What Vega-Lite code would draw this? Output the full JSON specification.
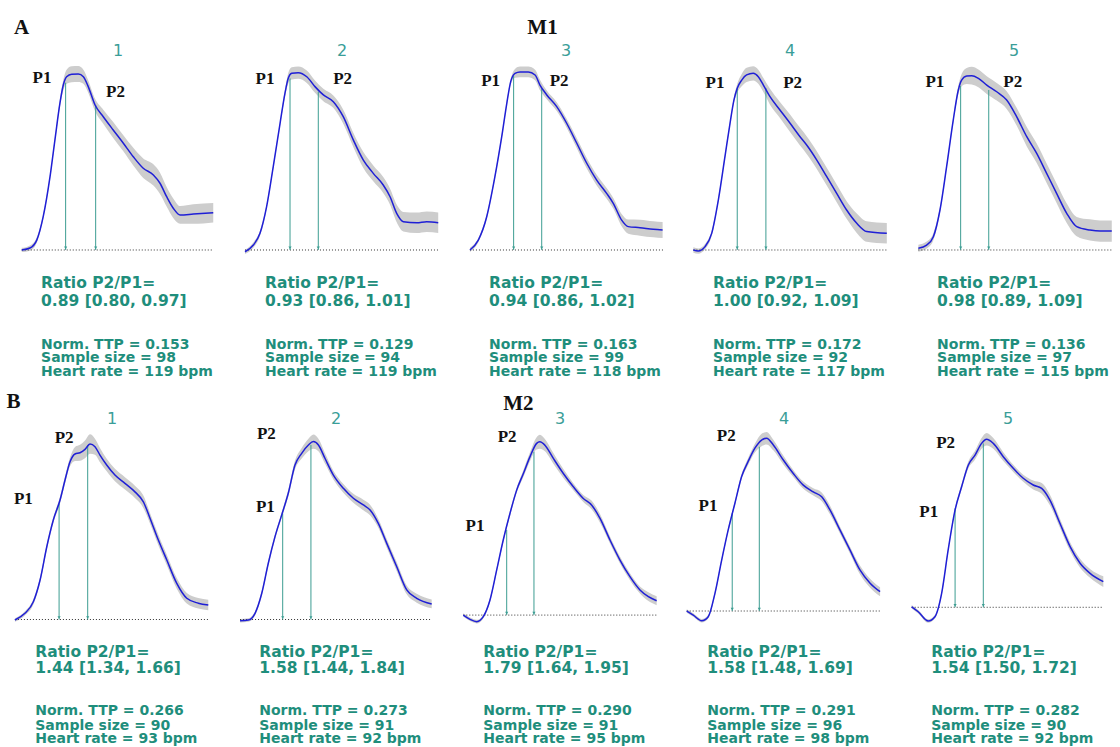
{
"$schema": "https://vega.github.io/schema/vega-lite/v6.json",
"padding": 0,
"background": "white",
"config": {"view": {"stroke": null}},
"datasets": {
"all": [
{"kind":"c","g":"A","p":1,"t":0.009,"y":0.000,"lo":-0.012,"hi":0.012},
{"kind":"c","g":"A","p":1,"t":0.051,"y":0.011,"lo":-0.004,"hi":0.026},
{"kind":"c","g":"A","p":1,"t":0.086,"y":0.056,"lo":0.041,"hi":0.071},
{"kind":"c","g":"A","p":1,"t":0.119,"y":0.188,"lo":0.176,"hi":0.200},
{"kind":"c","g":"A","p":1,"t":0.154,"y":0.414,"lo":0.402,"hi":0.426},
{"kind":"c","g":"A","p":1,"t":0.179,"y":0.621,"lo":0.609,"hi":0.633},
{"kind":"c","g":"A","p":1,"t":0.205,"y":0.831,"lo":0.811,"hi":0.851},
{"kind":"c","g":"A","p":1,"t":0.222,"y":0.932,"lo":0.902,"hi":0.962},
{"kind":"c","g":"A","p":1,"t":0.239,"y":0.979,"lo":0.939,"hi":1.019},
{"kind":"c","g":"A","p":1,"t":0.265,"y":0.993,"lo":0.948,"hi":1.038},
{"kind":"c","g":"A","p":1,"t":0.299,"y":0.994,"lo":0.949,"hi":1.039},
{"kind":"c","g":"A","p":1,"t":0.325,"y":0.979,"lo":0.939,"hi":1.019},
{"kind":"c","g":"A","p":1,"t":0.350,"y":0.923,"lo":0.888,"hi":0.958},
{"kind":"c","g":"A","p":1,"t":0.385,"y":0.819,"lo":0.784,"hi":0.854},
{"kind":"c","g":"A","p":1,"t":0.427,"y":0.753,"lo":0.713,"hi":0.793},
{"kind":"c","g":"A","p":1,"t":0.478,"y":0.678,"lo":0.633,"hi":0.723},
{"kind":"c","g":"A","p":1,"t":0.530,"y":0.603,"lo":0.558,"hi":0.648},
{"kind":"c","g":"A","p":1,"t":0.581,"y":0.527,"lo":0.477,"hi":0.577},
{"kind":"c","g":"A","p":1,"t":0.632,"y":0.462,"lo":0.407,"hi":0.517},
{"kind":"c","g":"A","p":1,"t":0.684,"y":0.424,"lo":0.364,"hi":0.484},
{"kind":"c","g":"A","p":1,"t":0.718,"y":0.377,"lo":0.317,"hi":0.437},
{"kind":"c","g":"A","p":1,"t":0.752,"y":0.301,"lo":0.246,"hi":0.356},
{"kind":"c","g":"A","p":1,"t":0.786,"y":0.236,"lo":0.181,"hi":0.291},
{"kind":"c","g":"A","p":1,"t":0.821,"y":0.198,"lo":0.148,"hi":0.248},
{"kind":"c","g":"A","p":1,"t":0.889,"y":0.203,"lo":0.148,"hi":0.258},
{"kind":"c","g":"A","p":1,"t":0.991,"y":0.211,"lo":0.156,"hi":0.266},

{"kind":"c","g":"A","p":2,"t":0.005,"y":-0.010,"lo":-0.022,"hi":0.002},
{"kind":"c","g":"A","p":2,"t":0.048,"y":0.028,"lo":0.013,"hi":0.043},
{"kind":"c","g":"A","p":2,"t":0.082,"y":0.094,"lo":0.079,"hi":0.109},
{"kind":"c","g":"A","p":2,"t":0.116,"y":0.245,"lo":0.233,"hi":0.257},
{"kind":"c","g":"A","p":2,"t":0.150,"y":0.471,"lo":0.459,"hi":0.483},
{"kind":"c","g":"A","p":2,"t":0.185,"y":0.716,"lo":0.704,"hi":0.728},
{"kind":"c","g":"A","p":2,"t":0.210,"y":0.885,"lo":0.865,"hi":0.905},
{"kind":"c","g":"A","p":2,"t":0.227,"y":0.970,"lo":0.940,"hi":1.000},
{"kind":"c","g":"A","p":2,"t":0.245,"y":0.998,"lo":0.963,"hi":1.033},
{"kind":"c","g":"A","p":2,"t":0.278,"y":1.002,"lo":0.967,"hi":1.037},
{"kind":"c","g":"A","p":2,"t":0.322,"y":0.979,"lo":0.944,"hi":1.014},
{"kind":"c","g":"A","p":2,"t":0.364,"y":0.923,"lo":0.888,"hi":0.958},
{"kind":"c","g":"A","p":2,"t":0.407,"y":0.876,"lo":0.841,"hi":0.911},
{"kind":"c","g":"A","p":2,"t":0.458,"y":0.838,"lo":0.803,"hi":0.873},
{"kind":"c","g":"A","p":2,"t":0.509,"y":0.753,"lo":0.713,"hi":0.793},
{"kind":"c","g":"A","p":2,"t":0.561,"y":0.621,"lo":0.581,"hi":0.661},
{"kind":"c","g":"A","p":2,"t":0.612,"y":0.508,"lo":0.463,"hi":0.553},
{"kind":"c","g":"A","p":2,"t":0.663,"y":0.433,"lo":0.388,"hi":0.478},
{"kind":"c","g":"A","p":2,"t":0.714,"y":0.367,"lo":0.322,"hi":0.412},
{"kind":"c","g":"A","p":2,"t":0.749,"y":0.301,"lo":0.256,"hi":0.346},
{"kind":"c","g":"A","p":2,"t":0.783,"y":0.207,"lo":0.157,"hi":0.257},
{"kind":"c","g":"A","p":2,"t":0.817,"y":0.160,"lo":0.105,"hi":0.215},
{"kind":"c","g":"A","p":2,"t":0.886,"y":0.154,"lo":0.096,"hi":0.212},
{"kind":"c","g":"A","p":2,"t":0.937,"y":0.160,"lo":0.102,"hi":0.218},
{"kind":"c","g":"A","p":2,"t":0.996,"y":0.154,"lo":0.096,"hi":0.212},

{"kind":"c","g":"A","p":3,"t":0.010,"y":0.000,"lo":-0.012,"hi":0.012},
{"kind":"c","g":"A","p":3,"t":0.053,"y":0.056,"lo":0.044,"hi":0.068},
{"kind":"c","g":"A","p":3,"t":0.096,"y":0.188,"lo":0.176,"hi":0.200},
{"kind":"c","g":"A","p":3,"t":0.138,"y":0.414,"lo":0.402,"hi":0.426},
{"kind":"c","g":"A","p":3,"t":0.173,"y":0.640,"lo":0.628,"hi":0.652},
{"kind":"c","g":"A","p":3,"t":0.199,"y":0.829,"lo":0.817,"hi":0.841},
{"kind":"c","g":"A","p":3,"t":0.219,"y":0.951,"lo":0.936,"hi":0.966},
{"kind":"c","g":"A","p":3,"t":0.241,"y":0.998,"lo":0.973,"hi":1.023},
{"kind":"c","g":"A","p":3,"t":0.267,"y":1.006,"lo":0.976,"hi":1.036},
{"kind":"c","g":"A","p":3,"t":0.309,"y":1.006,"lo":0.976,"hi":1.036},
{"kind":"c","g":"A","p":3,"t":0.344,"y":0.989,"lo":0.959,"hi":1.019},
{"kind":"c","g":"A","p":3,"t":0.369,"y":0.932,"lo":0.902,"hi":0.962},
{"kind":"c","g":"A","p":3,"t":0.404,"y":0.876,"lo":0.851,"hi":0.901},
{"kind":"c","g":"A","p":3,"t":0.455,"y":0.810,"lo":0.785,"hi":0.835},
{"kind":"c","g":"A","p":3,"t":0.506,"y":0.716,"lo":0.691,"hi":0.741},
{"kind":"c","g":"A","p":3,"t":0.558,"y":0.603,"lo":0.575,"hi":0.631},
{"kind":"c","g":"A","p":3,"t":0.609,"y":0.490,"lo":0.460,"hi":0.520},
{"kind":"c","g":"A","p":3,"t":0.660,"y":0.395,"lo":0.365,"hi":0.425},
{"kind":"c","g":"A","p":3,"t":0.711,"y":0.320,"lo":0.290,"hi":0.350},
{"kind":"c","g":"A","p":3,"t":0.745,"y":0.264,"lo":0.234,"hi":0.294},
{"kind":"c","g":"A","p":3,"t":0.788,"y":0.169,"lo":0.134,"hi":0.204},
{"kind":"c","g":"A","p":3,"t":0.822,"y":0.132,"lo":0.092,"hi":0.172},
{"kind":"c","g":"A","p":3,"t":0.882,"y":0.126,"lo":0.081,"hi":0.171},
{"kind":"c","g":"A","p":3,"t":0.950,"y":0.117,"lo":0.072,"hi":0.162},
{"kind":"c","g":"A","p":3,"t":0.998,"y":0.113,"lo":0.068,"hi":0.158},

{"kind":"c","g":"A","p":4,"t":0.007,"y":0.000,"lo":-0.015,"hi":0.015},
{"kind":"c","g":"A","p":4,"t":0.032,"y":-0.006,"lo":-0.021,"hi":0.009},
{"kind":"c","g":"A","p":4,"t":0.067,"y":0.019,"lo":0.004,"hi":0.034},
{"kind":"c","g":"A","p":4,"t":0.101,"y":0.094,"lo":0.079,"hi":0.109},
{"kind":"c","g":"A","p":4,"t":0.135,"y":0.282,"lo":0.270,"hi":0.294},
{"kind":"c","g":"A","p":4,"t":0.169,"y":0.527,"lo":0.515,"hi":0.539},
{"kind":"c","g":"A","p":4,"t":0.195,"y":0.716,"lo":0.704,"hi":0.728},
{"kind":"c","g":"A","p":4,"t":0.215,"y":0.847,"lo":0.832,"hi":0.862},
{"kind":"c","g":"A","p":4,"t":0.232,"y":0.914,"lo":0.889,"hi":0.939},
{"kind":"c","g":"A","p":4,"t":0.255,"y":0.960,"lo":0.925,"hi":0.995},
{"kind":"c","g":"A","p":4,"t":0.280,"y":0.989,"lo":0.949,"hi":1.029},
{"kind":"c","g":"A","p":4,"t":0.314,"y":0.998,"lo":0.958,"hi":1.038},
{"kind":"c","g":"A","p":4,"t":0.340,"y":0.979,"lo":0.939,"hi":1.019},
{"kind":"c","g":"A","p":4,"t":0.366,"y":0.932,"lo":0.892,"hi":0.972},
{"kind":"c","g":"A","p":4,"t":0.400,"y":0.866,"lo":0.821,"hi":0.911},
{"kind":"c","g":"A","p":4,"t":0.451,"y":0.791,"lo":0.746,"hi":0.836},
{"kind":"c","g":"A","p":4,"t":0.503,"y":0.716,"lo":0.666,"hi":0.766},
{"kind":"c","g":"A","p":4,"t":0.554,"y":0.640,"lo":0.590,"hi":0.690},
{"kind":"c","g":"A","p":4,"t":0.588,"y":0.593,"lo":0.543,"hi":0.643},
{"kind":"c","g":"A","p":4,"t":0.640,"y":0.508,"lo":0.458,"hi":0.558},
{"kind":"c","g":"A","p":4,"t":0.691,"y":0.414,"lo":0.364,"hi":0.464},
{"kind":"c","g":"A","p":4,"t":0.742,"y":0.320,"lo":0.270,"hi":0.370},
{"kind":"c","g":"A","p":4,"t":0.793,"y":0.226,"lo":0.176,"hi":0.276},
{"kind":"c","g":"A","p":4,"t":0.845,"y":0.151,"lo":0.096,"hi":0.206},
{"kind":"c","g":"A","p":4,"t":0.896,"y":0.104,"lo":0.046,"hi":0.162},
{"kind":"c","g":"A","p":4,"t":0.999,"y":0.094,"lo":0.036,"hi":0.152},

{"kind":"c","g":"A","p":5,"t":0.012,"y":0.010,"lo":-0.010,"hi":0.030},
{"kind":"c","g":"A","p":5,"t":0.055,"y":0.028,"lo":0.008,"hi":0.048},
{"kind":"c","g":"A","p":5,"t":0.089,"y":0.075,"lo":0.055,"hi":0.095},
{"kind":"c","g":"A","p":5,"t":0.123,"y":0.226,"lo":0.211,"hi":0.241},
{"kind":"c","g":"A","p":5,"t":0.157,"y":0.471,"lo":0.459,"hi":0.483},
{"kind":"c","g":"A","p":5,"t":0.191,"y":0.734,"lo":0.719,"hi":0.749},
{"kind":"c","g":"A","p":5,"t":0.217,"y":0.904,"lo":0.879,"hi":0.929},
{"kind":"c","g":"A","p":5,"t":0.234,"y":0.960,"lo":0.925,"hi":0.995},
{"kind":"c","g":"A","p":5,"t":0.260,"y":0.983,"lo":0.938,"hi":1.028},
{"kind":"c","g":"A","p":5,"t":0.286,"y":0.985,"lo":0.935,"hi":1.035},
{"kind":"c","g":"A","p":5,"t":0.320,"y":0.970,"lo":0.920,"hi":1.020},
{"kind":"c","g":"A","p":5,"t":0.363,"y":0.932,"lo":0.882,"hi":0.982},
{"kind":"c","g":"A","p":5,"t":0.414,"y":0.894,"lo":0.844,"hi":0.944},
{"kind":"c","g":"A","p":5,"t":0.465,"y":0.847,"lo":0.797,"hi":0.897},
{"kind":"c","g":"A","p":5,"t":0.516,"y":0.753,"lo":0.703,"hi":0.803},
{"kind":"c","g":"A","p":5,"t":0.568,"y":0.640,"lo":0.585,"hi":0.695},
{"kind":"c","g":"A","p":5,"t":0.619,"y":0.546,"lo":0.491,"hi":0.601},
{"kind":"c","g":"A","p":5,"t":0.670,"y":0.433,"lo":0.378,"hi":0.488},
{"kind":"c","g":"A","p":5,"t":0.721,"y":0.320,"lo":0.265,"hi":0.375},
{"kind":"c","g":"A","p":5,"t":0.773,"y":0.207,"lo":0.152,"hi":0.262},
{"kind":"c","g":"A","p":5,"t":0.824,"y":0.132,"lo":0.077,"hi":0.187},
{"kind":"c","g":"A","p":5,"t":0.892,"y":0.113,"lo":0.053,"hi":0.173},
{"kind":"c","g":"A","p":5,"t":0.944,"y":0.107,"lo":0.047,"hi":0.167},
{"kind":"c","g":"A","p":5,"t":1.004,"y":0.107,"lo":0.047,"hi":0.167},

{"kind":"c","g":"B","p":1,"t":-0.003,"y":-0.003,"lo":-0.013,"hi":0.007},
{"kind":"c","g":"B","p":1,"t":0.049,"y":0.035,"lo":0.023,"hi":0.047},
{"kind":"c","g":"B","p":1,"t":0.093,"y":0.100,"lo":0.085,"hi":0.115},
{"kind":"c","g":"B","p":1,"t":0.128,"y":0.223,"lo":0.208,"hi":0.238},
{"kind":"c","g":"B","p":1,"t":0.163,"y":0.411,"lo":0.396,"hi":0.426},
{"kind":"c","g":"B","p":1,"t":0.197,"y":0.562,"lo":0.547,"hi":0.577},
{"kind":"c","g":"B","p":1,"t":0.232,"y":0.675,"lo":0.655,"hi":0.695},
{"kind":"c","g":"B","p":1,"t":0.258,"y":0.788,"lo":0.768,"hi":0.808},
{"kind":"c","g":"B","p":1,"t":0.284,"y":0.891,"lo":0.866,"hi":0.916},
{"kind":"c","g":"B","p":1,"t":0.310,"y":0.935,"lo":0.895,"hi":0.975},
{"kind":"c","g":"B","p":1,"t":0.336,"y":0.942,"lo":0.897,"hi":0.987},
{"kind":"c","g":"B","p":1,"t":0.362,"y":0.961,"lo":0.911,"hi":1.011},
{"kind":"c","g":"B","p":1,"t":0.388,"y":0.991,"lo":0.936,"hi":1.046},
{"kind":"c","g":"B","p":1,"t":0.414,"y":0.976,"lo":0.931,"hi":1.021},
{"kind":"c","g":"B","p":1,"t":0.440,"y":0.929,"lo":0.889,"hi":0.969},
{"kind":"c","g":"B","p":1,"t":0.475,"y":0.873,"lo":0.838,"hi":0.908},
{"kind":"c","g":"B","p":1,"t":0.518,"y":0.816,"lo":0.781,"hi":0.851},
{"kind":"c","g":"B","p":1,"t":0.570,"y":0.769,"lo":0.734,"hi":0.804},
{"kind":"c","g":"B","p":1,"t":0.622,"y":0.721,"lo":0.686,"hi":0.756},
{"kind":"c","g":"B","p":1,"t":0.666,"y":0.665,"lo":0.630,"hi":0.700},
{"kind":"c","g":"B","p":1,"t":0.701,"y":0.571,"lo":0.541,"hi":0.601},
{"kind":"c","g":"B","p":1,"t":0.744,"y":0.449,"lo":0.419,"hi":0.479},
{"kind":"c","g":"B","p":1,"t":0.788,"y":0.336,"lo":0.306,"hi":0.366},
{"kind":"c","g":"B","p":1,"t":0.840,"y":0.204,"lo":0.174,"hi":0.234},
{"kind":"c","g":"B","p":1,"t":0.892,"y":0.120,"lo":0.090,"hi":0.150},
{"kind":"c","g":"B","p":1,"t":0.952,"y":0.092,"lo":0.062,"hi":0.122},
{"kind":"c","g":"B","p":1,"t":1.004,"y":0.082,"lo":0.052,"hi":0.112},

{"kind":"c","g":"B","p":2,"t":0.003,"y":-0.007,"lo":-0.017,"hi":0.003},
{"kind":"c","g":"B","p":2,"t":0.046,"y":-0.003,"lo":-0.013,"hi":0.007},
{"kind":"c","g":"B","p":2,"t":0.081,"y":0.035,"lo":0.023,"hi":0.047},
{"kind":"c","g":"B","p":2,"t":0.116,"y":0.148,"lo":0.133,"hi":0.163},
{"kind":"c","g":"B","p":2,"t":0.150,"y":0.318,"lo":0.303,"hi":0.333},
{"kind":"c","g":"B","p":2,"t":0.185,"y":0.468,"lo":0.453,"hi":0.483},
{"kind":"c","g":"B","p":2,"t":0.220,"y":0.591,"lo":0.576,"hi":0.606},
{"kind":"c","g":"B","p":2,"t":0.254,"y":0.713,"lo":0.693,"hi":0.733},
{"kind":"c","g":"B","p":2,"t":0.289,"y":0.873,"lo":0.848,"hi":0.898},
{"kind":"c","g":"B","p":2,"t":0.324,"y":0.939,"lo":0.909,"hi":0.969},
{"kind":"c","g":"B","p":2,"t":0.359,"y":0.986,"lo":0.951,"hi":1.021},
{"kind":"c","g":"B","p":2,"t":0.385,"y":1.005,"lo":0.965,"hi":1.045},
{"kind":"c","g":"B","p":2,"t":0.411,"y":0.986,"lo":0.951,"hi":1.021},
{"kind":"c","g":"B","p":2,"t":0.445,"y":0.911,"lo":0.881,"hi":0.941},
{"kind":"c","g":"B","p":2,"t":0.489,"y":0.816,"lo":0.791,"hi":0.841},
{"kind":"c","g":"B","p":2,"t":0.541,"y":0.741,"lo":0.716,"hi":0.766},
{"kind":"c","g":"B","p":2,"t":0.593,"y":0.685,"lo":0.660,"hi":0.710},
{"kind":"c","g":"B","p":2,"t":0.645,"y":0.647,"lo":0.617,"hi":0.677},
{"kind":"c","g":"B","p":2,"t":0.680,"y":0.619,"lo":0.589,"hi":0.649},
{"kind":"c","g":"B","p":2,"t":0.723,"y":0.543,"lo":0.518,"hi":0.568},
{"kind":"c","g":"B","p":2,"t":0.767,"y":0.430,"lo":0.405,"hi":0.455},
{"kind":"c","g":"B","p":2,"t":0.819,"y":0.298,"lo":0.273,"hi":0.323},
{"kind":"c","g":"B","p":2,"t":0.871,"y":0.167,"lo":0.142,"hi":0.192},
{"kind":"c","g":"B","p":2,"t":0.923,"y":0.120,"lo":0.095,"hi":0.145},
{"kind":"c","g":"B","p":2,"t":1.001,"y":0.088,"lo":0.063,"hi":0.113},

{"kind":"c","g":"B","p":3,"t":-0.001,"y":0.025,"lo":0.015,"hi":0.035},
{"kind":"c","g":"B","p":3,"t":0.034,"y":0.001,"lo":-0.009,"hi":0.011},
{"kind":"c","g":"B","p":3,"t":0.069,"y":-0.012,"lo":-0.022,"hi":-0.002},
{"kind":"c","g":"B","p":3,"t":0.103,"y":0.016,"lo":0.006,"hi":0.026},
{"kind":"c","g":"B","p":3,"t":0.138,"y":0.110,"lo":0.098,"hi":0.122},
{"kind":"c","g":"B","p":3,"t":0.173,"y":0.280,"lo":0.268,"hi":0.292},
{"kind":"c","g":"B","p":3,"t":0.207,"y":0.449,"lo":0.437,"hi":0.461},
{"kind":"c","g":"B","p":3,"t":0.242,"y":0.599,"lo":0.584,"hi":0.614},
{"kind":"c","g":"B","p":3,"t":0.277,"y":0.731,"lo":0.716,"hi":0.746},
{"kind":"c","g":"B","p":3,"t":0.312,"y":0.825,"lo":0.805,"hi":0.845},
{"kind":"c","g":"B","p":3,"t":0.346,"y":0.919,"lo":0.894,"hi":0.944},
{"kind":"c","g":"B","p":3,"t":0.381,"y":0.995,"lo":0.960,"hi":1.030},
{"kind":"c","g":"B","p":3,"t":0.398,"y":1.004,"lo":0.964,"hi":1.044},
{"kind":"c","g":"B","p":3,"t":0.424,"y":0.985,"lo":0.950,"hi":1.020},
{"kind":"c","g":"B","p":3,"t":0.468,"y":0.910,"lo":0.880,"hi":0.940},
{"kind":"c","g":"B","p":3,"t":0.520,"y":0.825,"lo":0.800,"hi":0.850},
{"kind":"c","g":"B","p":3,"t":0.572,"y":0.750,"lo":0.730,"hi":0.770},
{"kind":"c","g":"B","p":3,"t":0.624,"y":0.684,"lo":0.664,"hi":0.704},
{"kind":"c","g":"B","p":3,"t":0.668,"y":0.646,"lo":0.621,"hi":0.671},
{"kind":"c","g":"B","p":3,"t":0.711,"y":0.571,"lo":0.546,"hi":0.596},
{"kind":"c","g":"B","p":3,"t":0.763,"y":0.449,"lo":0.429,"hi":0.469},
{"kind":"c","g":"B","p":3,"t":0.815,"y":0.336,"lo":0.316,"hi":0.356},
{"kind":"c","g":"B","p":3,"t":0.867,"y":0.242,"lo":0.222,"hi":0.262},
{"kind":"c","g":"B","p":3,"t":0.919,"y":0.167,"lo":0.147,"hi":0.187},
{"kind":"c","g":"B","p":3,"t":0.963,"y":0.129,"lo":0.104,"hi":0.154},
{"kind":"c","g":"B","p":3,"t":1.006,"y":0.106,"lo":0.081,"hi":0.131},

{"kind":"c","g":"B","p":4,"t":-0.004,"y":0.048,"lo":0.038,"hi":0.058},
{"kind":"c","g":"B","p":4,"t":0.030,"y":0.025,"lo":0.015,"hi":0.035},
{"kind":"c","g":"B","p":4,"t":0.074,"y":-0.007,"lo":-0.017,"hi":0.003},
{"kind":"c","g":"B","p":4,"t":0.108,"y":0.016,"lo":0.006,"hi":0.026},
{"kind":"c","g":"B","p":4,"t":0.143,"y":0.148,"lo":0.136,"hi":0.160},
{"kind":"c","g":"B","p":4,"t":0.178,"y":0.336,"lo":0.324,"hi":0.348},
{"kind":"c","g":"B","p":4,"t":0.212,"y":0.506,"lo":0.494,"hi":0.518},
{"kind":"c","g":"B","p":4,"t":0.247,"y":0.657,"lo":0.645,"hi":0.669},
{"kind":"c","g":"B","p":4,"t":0.282,"y":0.808,"lo":0.793,"hi":0.823},
{"kind":"c","g":"B","p":4,"t":0.316,"y":0.893,"lo":0.873,"hi":0.913},
{"kind":"c","g":"B","p":4,"t":0.351,"y":0.968,"lo":0.943,"hi":0.993},
{"kind":"c","g":"B","p":4,"t":0.386,"y":1.014,"lo":0.979,"hi":1.049},
{"kind":"c","g":"B","p":4,"t":0.412,"y":1.024,"lo":0.989,"hi":1.059},
{"kind":"c","g":"B","p":4,"t":0.447,"y":0.986,"lo":0.956,"hi":1.016},
{"kind":"c","g":"B","p":4,"t":0.499,"y":0.901,"lo":0.876,"hi":0.926},
{"kind":"c","g":"B","p":4,"t":0.551,"y":0.825,"lo":0.805,"hi":0.845},
{"kind":"c","g":"B","p":4,"t":0.603,"y":0.759,"lo":0.739,"hi":0.779},
{"kind":"c","g":"B","p":4,"t":0.655,"y":0.721,"lo":0.701,"hi":0.741},
{"kind":"c","g":"B","p":4,"t":0.699,"y":0.693,"lo":0.668,"hi":0.718},
{"kind":"c","g":"B","p":4,"t":0.742,"y":0.619,"lo":0.594,"hi":0.644},
{"kind":"c","g":"B","p":4,"t":0.794,"y":0.506,"lo":0.486,"hi":0.526},
{"kind":"c","g":"B","p":4,"t":0.846,"y":0.393,"lo":0.373,"hi":0.413},
{"kind":"c","g":"B","p":4,"t":0.898,"y":0.280,"lo":0.255,"hi":0.305},
{"kind":"c","g":"B","p":4,"t":0.951,"y":0.205,"lo":0.180,"hi":0.230},
{"kind":"c","g":"B","p":4,"t":1.003,"y":0.157,"lo":0.132,"hi":0.182},

{"kind":"c","g":"B","p":5,"t":0.001,"y":0.072,"lo":0.062,"hi":0.082},
{"kind":"c","g":"B","p":5,"t":0.035,"y":0.044,"lo":0.034,"hi":0.054},
{"kind":"c","g":"B","p":5,"t":0.087,"y":-0.008,"lo":-0.018,"hi":0.002},
{"kind":"c","g":"B","p":5,"t":0.122,"y":0.016,"lo":0.006,"hi":0.026},
{"kind":"c","g":"B","p":5,"t":0.157,"y":0.148,"lo":0.136,"hi":0.160},
{"kind":"c","g":"B","p":5,"t":0.191,"y":0.393,"lo":0.381,"hi":0.405},
{"kind":"c","g":"B","p":5,"t":0.227,"y":0.619,"lo":0.607,"hi":0.631},
{"kind":"c","g":"B","p":5,"t":0.261,"y":0.750,"lo":0.735,"hi":0.765},
{"kind":"c","g":"B","p":5,"t":0.296,"y":0.873,"lo":0.853,"hi":0.893},
{"kind":"c","g":"B","p":5,"t":0.331,"y":0.929,"lo":0.904,"hi":0.954},
{"kind":"c","g":"B","p":5,"t":0.365,"y":0.995,"lo":0.965,"hi":1.025},
{"kind":"c","g":"B","p":5,"t":0.391,"y":1.018,"lo":0.983,"hi":1.053},
{"kind":"c","g":"B","p":5,"t":0.426,"y":0.995,"lo":0.965,"hi":1.025},
{"kind":"c","g":"B","p":5,"t":0.478,"y":0.920,"lo":0.895,"hi":0.945},
{"kind":"c","g":"B","p":5,"t":0.530,"y":0.854,"lo":0.834,"hi":0.874},
{"kind":"c","g":"B","p":5,"t":0.582,"y":0.798,"lo":0.778,"hi":0.818},
{"kind":"c","g":"B","p":5,"t":0.634,"y":0.760,"lo":0.735,"hi":0.785},
{"kind":"c","g":"B","p":5,"t":0.678,"y":0.741,"lo":0.711,"hi":0.771},
{"kind":"c","g":"B","p":5,"t":0.721,"y":0.675,"lo":0.645,"hi":0.705},
{"kind":"c","g":"B","p":5,"t":0.773,"y":0.544,"lo":0.519,"hi":0.569},
{"kind":"c","g":"B","p":5,"t":0.826,"y":0.412,"lo":0.387,"hi":0.437},
{"kind":"c","g":"B","p":5,"t":0.878,"y":0.318,"lo":0.293,"hi":0.343},
{"kind":"c","g":"B","p":5,"t":0.930,"y":0.261,"lo":0.236,"hi":0.286},
{"kind":"c","g":"B","p":5,"t":0.999,"y":0.214,"lo":0.184,"hi":0.244},

{"kind":"r","g":"A","p":1,"name":"P1","t":0.234,"y":0.945,"b":0},
{"kind":"r","g":"A","p":1,"name":"P2","t":0.388,"y":0.819,"b":0},
{"kind":"r","g":"A","p":2,"name":"P1","t":0.236,"y":0.970,"b":0},
{"kind":"r","g":"A","p":2,"name":"P2","t":0.381,"y":0.894,"b":0},
{"kind":"r","g":"A","p":3,"name":"P1","t":0.234,"y":0.985,"b":0},
{"kind":"r","g":"A","p":3,"name":"P2","t":0.378,"y":0.912,"b":0},
{"kind":"r","g":"A","p":4,"name":"P1","t":0.232,"y":0.914,"b":0},
{"kind":"r","g":"A","p":4,"name":"P2","t":0.379,"y":0.915,"b":0},
{"kind":"r","g":"A","p":5,"name":"P1","t":0.229,"y":0.927,"b":0},
{"kind":"r","g":"A","p":5,"name":"P2","t":0.373,"y":0.904,"b":0},
{"kind":"r","g":"B","p":1,"name":"P1","t":0.227,"y":0.656,"b":0},
{"kind":"r","g":"B","p":1,"name":"P2","t":0.376,"y":0.986,"b":0},
{"kind":"r","g":"B","p":2,"name":"P1","t":0.225,"y":0.600,"b":0},
{"kind":"r","g":"B","p":2,"name":"P2","t":0.372,"y":0.986,"b":0},
{"kind":"r","g":"B","p":3,"name":"P1","t":0.225,"y":0.506,"b":0.025},
{"kind":"r","g":"B","p":3,"name":"P2","t":0.367,"y":0.948,"b":0.025},
{"kind":"r","g":"B","p":4,"name":"P1","t":0.233,"y":0.600,"b":0.048},
{"kind":"r","g":"B","p":4,"name":"P2","t":0.374,"y":0.976,"b":0.048},
{"kind":"r","g":"B","p":5,"name":"P1","t":0.227,"y":0.628,"b":0.069},
{"kind":"r","g":"B","p":5,"name":"P2","t":0.374,"y":0.995,"b":0.069},

{"kind":"l","g":"A","p":1,"name":"P1","t":0.113,"y":0.972},
{"kind":"l","g":"A","p":1,"name":"P2","t":0.490,"y":0.893},
{"kind":"l","g":"A","p":2,"name":"P1","t":0.108,"y":0.964},
{"kind":"l","g":"A","p":2,"name":"P2","t":0.506,"y":0.964},
{"kind":"l","g":"A","p":3,"name":"P1","t":0.116,"y":0.955},
{"kind":"l","g":"A","p":3,"name":"P2","t":0.467,"y":0.955},
{"kind":"l","g":"A","p":4,"name":"P1","t":0.118,"y":0.945},
{"kind":"l","g":"A","p":4,"name":"P2","t":0.516,"y":0.945},
{"kind":"l","g":"A","p":5,"name":"P1","t":0.097,"y":0.951},
{"kind":"l","g":"A","p":5,"name":"P2","t":0.496,"y":0.951},
{"kind":"l","g":"B","p":1,"name":"P1","t":0.041,"y":0.679},
{"kind":"l","g":"B","p":1,"name":"P2","t":0.253,"y":1.024},
{"kind":"l","g":"B","p":2,"name":"P1","t":0.135,"y":0.637},
{"kind":"l","g":"B","p":2,"name":"P2","t":0.140,"y":1.048},
{"kind":"l","g":"B","p":3,"name":"P1","t":0.060,"y":0.528},
{"kind":"l","g":"B","p":3,"name":"P2","t":0.227,"y":1.033},
{"kind":"l","g":"B","p":4,"name":"P1","t":0.107,"y":0.641},
{"kind":"l","g":"B","p":4,"name":"P2","t":0.202,"y":1.037},
{"kind":"l","g":"B","p":5,"name":"P1","t":0.090,"y":0.609},
{"kind":"l","g":"B","p":5,"name":"P2","t":0.178,"y":0.999},

{"kind":"b","g":"A","p":1,"t0":0.009,"t1":0.991,"y":0},
{"kind":"b","g":"A","p":2,"t0":0.005,"t1":1.0,"y":0},
{"kind":"b","g":"A","p":3,"t0":0.010,"t1":1.0,"y":0},
{"kind":"b","g":"A","p":4,"t0":0.007,"t1":1.0,"y":0},
{"kind":"b","g":"A","p":5,"t0":0.012,"t1":1.004,"y":0},
{"kind":"b","g":"B","p":1,"t0":-0.003,"t1":1.004,"y":0},
{"kind":"b","g":"B","p":2,"t0":0.003,"t1":1.0,"y":0},
{"kind":"b","g":"B","p":3,"t0":-0.001,"t1":1.006,"y":0.025},
{"kind":"b","g":"B","p":4,"t0":-0.004,"t1":1.003,"y":0.048},
{"kind":"b","g":"B","p":5,"t0":0.001,"t1":1.0,"y":0.069},

{"kind":"s","g":"A","p":1,"title":"1","ratio":"0.89 [0.80, 0.97]","ttp":"Norm. TTP = 0.153","n":"Sample size = 98","hr":"Heart rate = 119 bpm"},
{"kind":"s","g":"A","p":2,"title":"2","ratio":"0.93 [0.86, 1.01]","ttp":"Norm. TTP = 0.129","n":"Sample size = 94","hr":"Heart rate = 119 bpm"},
{"kind":"s","g":"A","p":3,"title":"3","ratio":"0.94 [0.86, 1.02]","ttp":"Norm. TTP = 0.163","n":"Sample size = 99","hr":"Heart rate = 118 bpm"},
{"kind":"s","g":"A","p":4,"title":"4","ratio":"1.00 [0.92, 1.09]","ttp":"Norm. TTP = 0.172","n":"Sample size = 92","hr":"Heart rate = 117 bpm"},
{"kind":"s","g":"A","p":5,"title":"5","ratio":"0.98 [0.89, 1.09]","ttp":"Norm. TTP = 0.136","n":"Sample size = 97","hr":"Heart rate = 115 bpm"},
{"kind":"s","g":"B","p":1,"title":"1","ratio":"1.44 [1.34, 1.66]","ttp":"Norm. TTP = 0.266","n":"Sample size = 90","hr":"Heart rate = 93 bpm"},
{"kind":"s","g":"B","p":2,"title":"2","ratio":"1.58 [1.44, 1.84]","ttp":"Norm. TTP = 0.273","n":"Sample size = 91","hr":"Heart rate = 92 bpm"},
{"kind":"s","g":"B","p":3,"title":"3","ratio":"1.79 [1.64, 1.95]","ttp":"Norm. TTP = 0.290","n":"Sample size = 91","hr":"Heart rate = 95 bpm"},
{"kind":"s","g":"B","p":4,"title":"4","ratio":"1.58 [1.48, 1.69]","ttp":"Norm. TTP = 0.291","n":"Sample size = 96","hr":"Heart rate = 98 bpm"},
{"kind":"s","g":"B","p":5,"title":"5","ratio":"1.54 [1.50, 1.72]","ttp":"Norm. TTP = 0.282","n":"Sample size = 90","hr":"Heart rate = 92 bpm"},

{"kind":"tag","g":"A","p":1,"name":"A","t":0.008,"y":1.254},
{"kind":"tag","g":"A","p":3,"name":"M1","t":0.382,"y":1.254},
{"kind":"tag","g":"B","p":1,"name":"B","t":-0.010,"y":1.231},
{"kind":"tag","g":"B","p":3,"name":"M2","t":0.286,"y":1.218}
]
},
"vconcat": [
{
"data": {"name": "all"},
"transform": [{"filter": "datum.g == 'A'"}],
"facet": {"column": {"field": "p", "type": "ordinal", "header": null}},
"spacing": 0,
"spec": {
"width": 224, "height": 380,
"layer": [
{"transform": [{"filter": "datum.kind == 'c'"}],
 "mark": {"type": "area", "color": "#cdcdcd", "interpolate": "monotone", "opacity": 1},
 "encoding": {"x": {"field": "t", "type": "quantitative", "axis": null, "scale": {"domain": [-0.10256, 1.04615], "nice": false, "zero": false}},
  "y": {"field": "lo", "type": "quantitative", "axis": null, "scale": {"domain": [-0.7345, 1.4124], "nice": false, "zero": false}},
  "y2": {"field": "hi"}}},
{"transform": [{"filter": "datum.kind == 'b'"}],
 "mark": {"type": "rule", "color": "#333333", "strokeWidth": 1, "strokeDash": [1, 2]},
 "encoding": {"x": {"field": "t0", "type": "quantitative"}, "x2": {"field": "t1"}, "y": {"field": "y", "type": "quantitative"}}},
{"transform": [{"filter": "datum.kind == 'r'"}],
 "mark": {"type": "rule", "color": "#3d9d92", "strokeWidth": 1},
 "encoding": {"x": {"field": "t", "type": "quantitative"}, "y": {"field": "y", "type": "quantitative"}, "y2": {"field": "b"}}},
{"transform": [{"filter": "datum.kind == 'r'"}],
 "mark": {"type": "point", "shape": "triangle-down", "filled": true, "color": "#3d9d92", "size": 10, "opacity": 1, "yOffset": -2},
 "encoding": {"x": {"field": "t", "type": "quantitative"}, "y": {"field": "b", "type": "quantitative"}}},
{"transform": [{"filter": "datum.kind == 'c'"}],
 "mark": {"type": "line", "color": "#1f1fd6", "strokeWidth": 1.5, "interpolate": "monotone"},
 "encoding": {"x": {"field": "t", "type": "quantitative"}, "y": {"field": "y", "type": "quantitative"}}},
{"transform": [{"filter": "datum.kind == 'l'"}],
 "mark": {"type": "text", "font": "Liberation Serif", "fontWeight": "bold", "fontSize": 17, "color": "#111111", "align": "center", "baseline": "middle"},
 "encoding": {"x": {"field": "t", "type": "quantitative"}, "y": {"field": "y", "type": "quantitative"}, "text": {"field": "name"}}},
{"transform": [{"filter": "datum.kind == 'tag'"}],
 "mark": {"type": "text", "font": "Liberation Serif", "fontWeight": "bold", "fontSize": 21, "color": "#111111", "align": "center", "baseline": "middle"},
 "encoding": {"x": {"field": "t", "type": "quantitative"}, "y": {"field": "y", "type": "quantitative"}, "text": {"field": "name"}}},
{"transform": [{"filter": "datum.kind == 's'"}],
 "mark": {"type": "text", "font": "DejaVu Sans", "fontSize": 16, "color": "#3a9e98", "align": "center", "baseline": "middle"},
 "encoding": {"x": {"datum": 0.503, "type": "quantitative"}, "y": {"datum": 1.124, "type": "quantitative"}, "text": {"field": "title"}}},
{"transform": [{"filter": "datum.kind == 's'"}],
 "mark": {"type": "text", "font": "DejaVu Sans", "fontWeight": "bold", "fontSize": 15.5, "color": "#1f8e7c", "align": "left", "baseline": "middle", "text": "Ratio P2/P1="},
 "encoding": {"x": {"datum": 0.108, "type": "quantitative"}, "y": {"datum": -0.189, "type": "quantitative"}}},
{"transform": [{"filter": "datum.kind == 's'"}],
 "mark": {"type": "text", "font": "DejaVu Sans", "fontWeight": "bold", "fontSize": 15.5, "color": "#1f8e7c", "align": "left", "baseline": "middle"},
 "encoding": {"x": {"datum": 0.108, "type": "quantitative"}, "y": {"datum": -0.288, "type": "quantitative"}, "text": {"field": "ratio"}}},
{"transform": [{"filter": "datum.kind == 's'"}],
 "mark": {"type": "text", "font": "DejaVu Sans", "fontWeight": "bold", "fontSize": 14, "color": "#1f8e7c", "align": "left", "baseline": "middle"},
 "encoding": {"x": {"datum": 0.108, "type": "quantitative"}, "y": {"datum": -0.537, "type": "quantitative"}, "text": {"field": "ttp"}}},
{"transform": [{"filter": "datum.kind == 's'"}],
 "mark": {"type": "text", "font": "DejaVu Sans", "fontWeight": "bold", "fontSize": 14, "color": "#1f8e7c", "align": "left", "baseline": "middle"},
 "encoding": {"x": {"datum": 0.108, "type": "quantitative"}, "y": {"datum": -0.610, "type": "quantitative"}, "text": {"field": "n"}}},
{"transform": [{"filter": "datum.kind == 's'"}],
 "mark": {"type": "text", "font": "DejaVu Sans", "fontWeight": "bold", "fontSize": 14, "color": "#1f8e7c", "align": "left", "baseline": "middle"},
 "encoding": {"x": {"datum": 0.108, "type": "quantitative"}, "y": {"datum": -0.687, "type": "quantitative"}, "text": {"field": "hr"}}}
]
}
},
{
"data": {"name": "all"},
"transform": [{"filter": "datum.g == 'B'"}],
"facet": {"column": {"field": "p", "type": "ordinal", "header": null}},
"spacing": 0,
"spec": {
"width": 224, "height": 367,
"layer": [
{"transform": [{"filter": "datum.kind == 'c'"}],
 "mark": {"type": "area", "color": "#cdcdcd", "interpolate": "monotone", "opacity": 1},
 "encoding": {"x": {"field": "t", "type": "quantitative", "axis": null, "scale": {"domain": [-0.0807, 1.0859], "nice": false, "zero": false}},
  "y": {"field": "lo", "type": "quantitative", "axis": null, "scale": {"domain": [-0.7203, 1.3531], "nice": false, "zero": false}},
  "y2": {"field": "hi"}}},
{"transform": [{"filter": "datum.kind == 'b'"}],
 "mark": {"type": "rule", "color": "#333333", "strokeWidth": 1, "strokeDash": [1, 2]},
 "encoding": {"x": {"field": "t0", "type": "quantitative"}, "x2": {"field": "t1"}, "y": {"field": "y", "type": "quantitative"}}},
{"transform": [{"filter": "datum.kind == 'r'"}],
 "mark": {"type": "rule", "color": "#3d9d92", "strokeWidth": 1},
 "encoding": {"x": {"field": "t", "type": "quantitative"}, "y": {"field": "y", "type": "quantitative"}, "y2": {"field": "b"}}},
{"transform": [{"filter": "datum.kind == 'r'"}],
 "mark": {"type": "point", "shape": "triangle-down", "filled": true, "color": "#3d9d92", "size": 10, "opacity": 1, "yOffset": -2},
 "encoding": {"x": {"field": "t", "type": "quantitative"}, "y": {"field": "b", "type": "quantitative"}}},
{"transform": [{"filter": "datum.kind == 'c'"}],
 "mark": {"type": "line", "color": "#1f1fd6", "strokeWidth": 1.5, "interpolate": "monotone"},
 "encoding": {"x": {"field": "t", "type": "quantitative"}, "y": {"field": "y", "type": "quantitative"}}},
{"transform": [{"filter": "datum.kind == 'l'"}],
 "mark": {"type": "text", "font": "Liberation Serif", "fontWeight": "bold", "fontSize": 17, "color": "#111111", "align": "center", "baseline": "middle"},
 "encoding": {"x": {"field": "t", "type": "quantitative"}, "y": {"field": "y", "type": "quantitative"}, "text": {"field": "name"}}},
{"transform": [{"filter": "datum.kind == 'tag'"}],
 "mark": {"type": "text", "font": "Liberation Serif", "fontWeight": "bold", "fontSize": 21, "color": "#111111", "align": "center", "baseline": "middle"},
 "encoding": {"x": {"field": "t", "type": "quantitative"}, "y": {"field": "y", "type": "quantitative"}, "text": {"field": "name"}}},
{"transform": [{"filter": "datum.kind == 's'"}],
 "mark": {"type": "text", "font": "DejaVu Sans", "fontSize": 16, "color": "#3a9e98", "align": "center", "baseline": "middle"},
 "encoding": {"x": {"datum": 0.503, "type": "quantitative"}, "y": {"datum": 1.133, "type": "quantitative"}, "text": {"field": "title"}}},
{"transform": [{"filter": "datum.kind == 's'"}],
 "mark": {"type": "text", "font": "DejaVu Sans", "fontWeight": "bold", "fontSize": 15.5, "color": "#1f8e7c", "align": "left", "baseline": "middle", "text": "Ratio P2/P1="},
 "encoding": {"x": {"datum": 0.103, "type": "quantitative"}, "y": {"datum": -0.182, "type": "quantitative"}}},
{"transform": [{"filter": "datum.kind == 's'"}],
 "mark": {"type": "text", "font": "DejaVu Sans", "fontWeight": "bold", "fontSize": 15.5, "color": "#1f8e7c", "align": "left", "baseline": "middle"},
 "encoding": {"x": {"datum": 0.103, "type": "quantitative"}, "y": {"datum": -0.276, "type": "quantitative"}, "text": {"field": "ratio"}}},
{"transform": [{"filter": "datum.kind == 's'"}],
 "mark": {"type": "text", "font": "DejaVu Sans", "fontWeight": "bold", "fontSize": 14, "color": "#1f8e7c", "align": "left", "baseline": "middle"},
 "encoding": {"x": {"datum": 0.103, "type": "quantitative"}, "y": {"datum": -0.517, "type": "quantitative"}, "text": {"field": "ttp"}}},
{"transform": [{"filter": "datum.kind == 's'"}],
 "mark": {"type": "text", "font": "DejaVu Sans", "fontWeight": "bold", "fontSize": 14, "color": "#1f8e7c", "align": "left", "baseline": "middle"},
 "encoding": {"x": {"datum": 0.103, "type": "quantitative"}, "y": {"datum": -0.600, "type": "quantitative"}, "text": {"field": "n"}}},
{"transform": [{"filter": "datum.kind == 's'"}],
 "mark": {"type": "text", "font": "DejaVu Sans", "fontWeight": "bold", "fontSize": 14, "color": "#1f8e7c", "align": "left", "baseline": "middle"},
 "encoding": {"x": {"datum": 0.103, "type": "quantitative"}, "y": {"datum": -0.677, "type": "quantitative"}, "text": {"field": "hr"}}}
]
}
}
],
"spacing": 0
}
